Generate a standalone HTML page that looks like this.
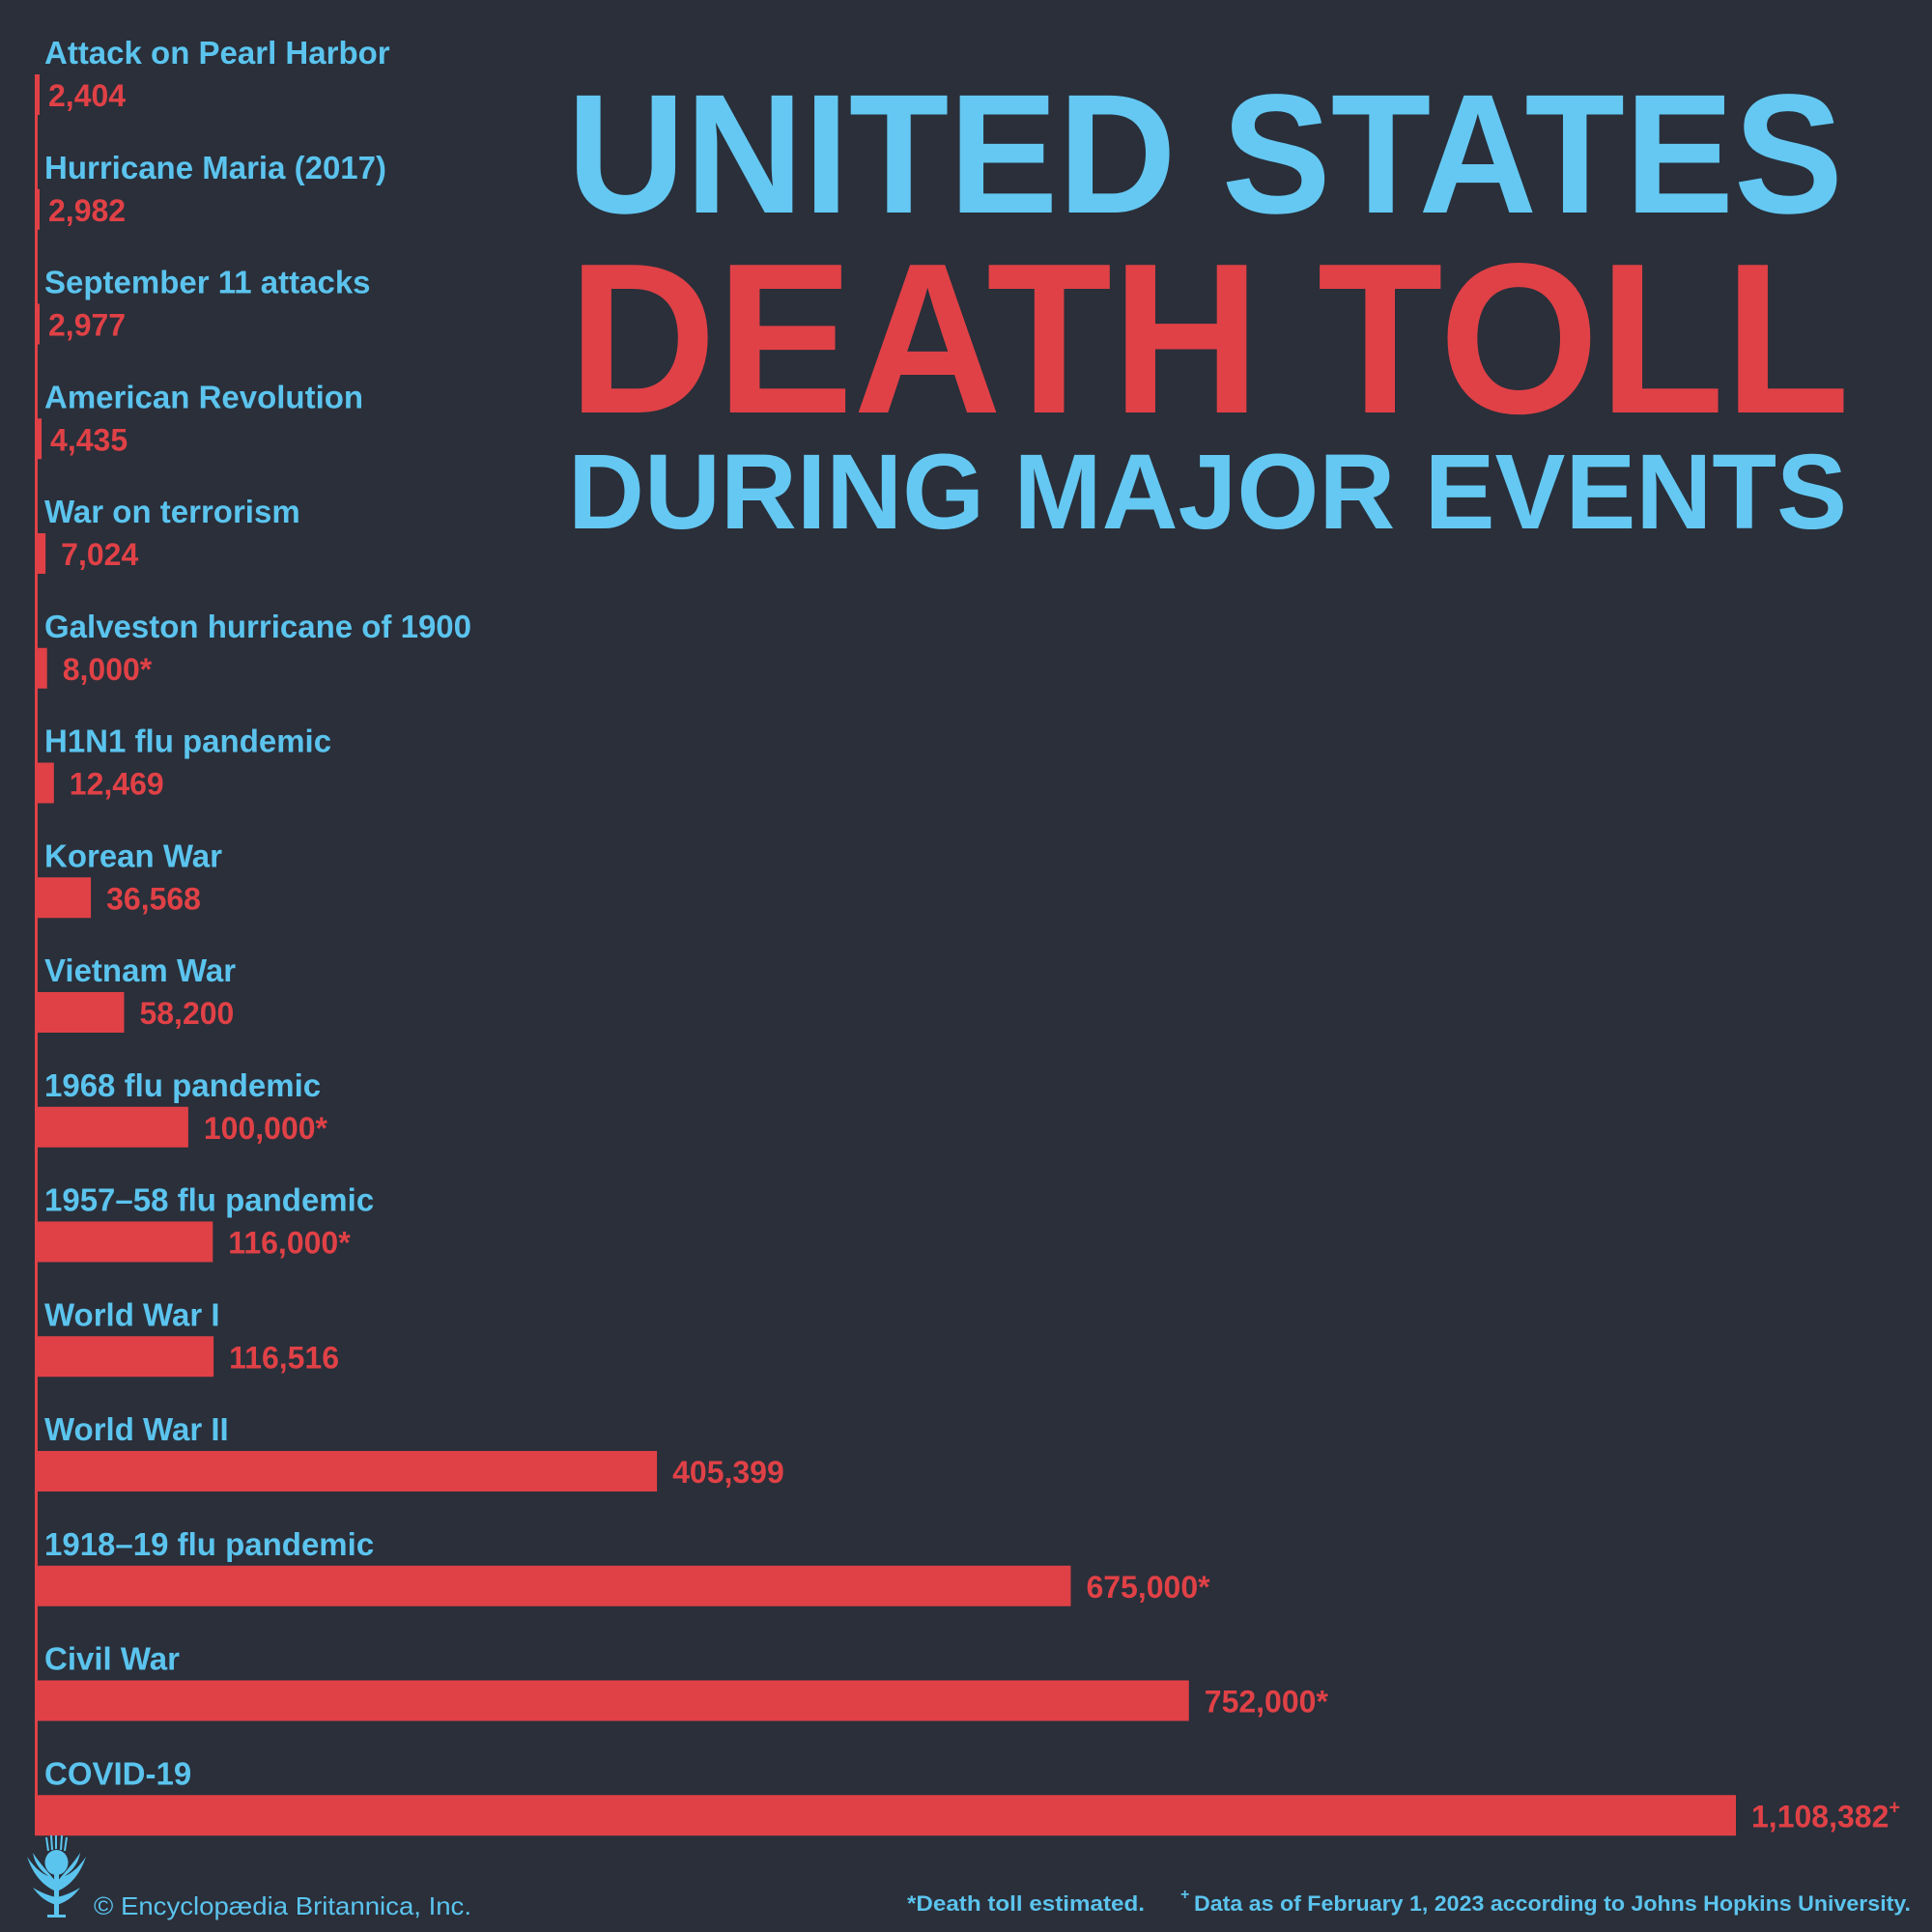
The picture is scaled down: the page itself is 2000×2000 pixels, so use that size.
<!DOCTYPE html>
<html><head><meta charset="utf-8"><style>
html,body{margin:0;padding:0;background:#2a2f3a;}
svg{display:block;}
text{font-family:"Liberation Sans",sans-serif;font-weight:bold;}
</style></head><body>
<svg width="2000" height="2000" viewBox="0 0 2000 2000" xmlns="http://www.w3.org/2000/svg">
<rect width="2000" height="2000" fill="#2a2f3a"/>
<rect x="36" y="77" width="3" height="1823" fill="#e04146"/>
<g id="rows"></g>
<text x="587" y="220" font-size="176" fill="#64c8f2" textLength="1321" lengthAdjust="spacingAndGlyphs">UNITED STATES</text>
<text x="588" y="427" font-size="222" fill="#e04146" textLength="1327" lengthAdjust="spacingAndGlyphs">DEATH TOLL</text>
<text x="588" y="547" font-size="110" fill="#64c8f2" textLength="1324" lengthAdjust="spacingAndGlyphs">DURING MAJOR EVENTS</text>
<g fill="#5bc4ee" stroke="#5bc4ee">
<rect x="56" y="1940" width="5" height="44" stroke="none"/>
<rect x="49" y="1982" width="19" height="3" stroke="none"/>
<ellipse cx="58.5" cy="1928" rx="12" ry="13" stroke="none"/>
<path d="M50 1916 L48 1902 M54 1915 L53 1900 M58 1914 L58 1900 M63 1915 L64 1900 M67 1916 L69 1902" stroke-width="2" fill="none"/>
<path d="M58 1958 C44 1952 34 1940 28 1922 C36 1934 44 1940 50 1942 C40 1935 36 1928 34 1918 C42 1930 50 1938 58 1948 Z" stroke="none"/>
<path d="M59 1958 C73 1952 83 1940 89 1922 C81 1934 73 1940 67 1942 C77 1935 81 1928 83 1918 C75 1930 67 1938 59 1948 Z" stroke="none"/>
<path d="M58 1972 C46 1968 40 1962 34 1954 C44 1960 50 1962 58 1964 Z M59 1972 C71 1968 77 1962 83 1954 C73 1960 67 1962 59 1964 Z" stroke="none"/>
</g>
<text x="97" y="1982" font-size="26" style="font-weight:normal" fill="#5bc4ee" textLength="391" lengthAdjust="spacingAndGlyphs">© Encyclopædia Britannica, Inc.</text>
<text x="939" y="1978" font-size="22" fill="#5bc4ee" textLength="246" lengthAdjust="spacingAndGlyphs">*Death toll estimated.</text>
<text x="1222" y="1966" font-size="16" fill="#5bc4ee">+</text>
<text x="1236" y="1978" font-size="22" fill="#5bc4ee" textLength="742" lengthAdjust="spacingAndGlyphs">Data as of February 1, 2023 according to Johns Hopkins University.</text>
</svg>
<script>
var d=[["Attack on Pearl Harbor",2404,"2,404"],["Hurricane Maria (2017)",2982,"2,982"],["September 11 attacks",2977,"2,977"],["American Revolution",4435,"4,435"],["War on terrorism",7024,"7,024"],["Galveston hurricane of 1900",8000,"8,000*"],["H1N1 flu pandemic",12469,"12,469"],["Korean War",36568,"36,568"],["Vietnam War",58200,"58,200"],["1968 flu pandemic",100000,"100,000*"],["1957\u201358 flu pandemic",116000,"116,000*"],["World War I",116516,"116,516"],["World War II",405399,"405,399"],["1918\u201319 flu pandemic",675000,"675,000*"],["Civil War",752000,"752,000*"],["COVID-19",1108382,"1,108,382"]];
var g=document.getElementById("rows"),h="";
d.forEach(function(r,i){var y=77+i*118.75;var w=Math.max(5,r[1]*1761/1108382);
h+='<text x="46" y="'+(y-11)+'" font-size="33" fill="#5bc4ee">'+r[0]+'</text>';
h+='<rect x="36" y="'+y+'" width="'+w+'" height="42" fill="#e04146"/>';
var vx=36+w+(w<10?9:16);
h+='<text x="'+vx+'" y="'+(y+33)+'" font-size="32" fill="#e04146">'+r[2]+(i==15?'<tspan font-size="20" dy="-14">+</tspan>':'')+'</text>';});
g.innerHTML=h;
</script>
</body></html>
